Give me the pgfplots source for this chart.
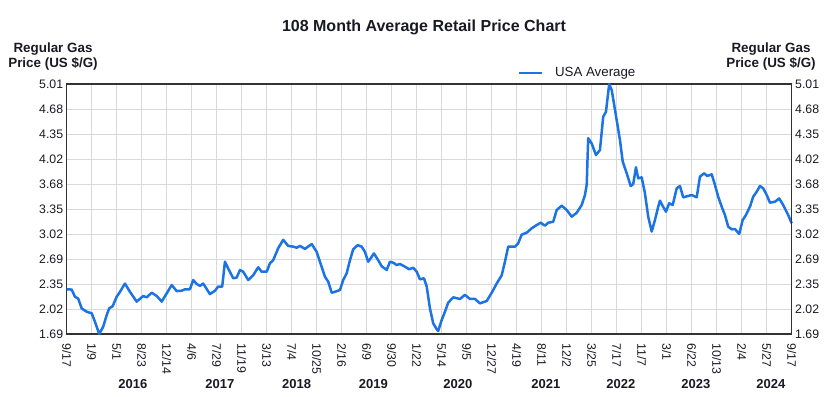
\documentclass[border=0pt]{standalone}
\usepackage{pgfplots}
\pgfplotsset{compat=1.18}
\usepackage{fontspec}
\setmainfont{Liberation Sans}
\definecolor{lineblue}{RGB}{28,115,228}
\definecolor{gridgray}{RGB}{217,217,217}
\definecolor{txt}{RGB}{25,25,35}
\tikzset{yearlab/.style={font=\bfseries\fontsize{13bp}{15bp}\selectfont, text=txt, yshift=-50bp}}
\begin{document}
\begin{tikzpicture}
\path[use as bounding box] (-66.7bp,-63bp) rectangle (771.3bp,334bp);
\begin{axis}[
  at={(0,0)}, anchor=south west,
  scale only axis, width=725bp, height=250bp,
  xmin=0, xmax=29, ymin=1.69, ymax=5.01,
  xtick={0,...,29},
  xticklabels={9/17,1/9,5/1,8/23,12/14,4/6,7/29,11/19,3/13,7/4,10/25,2/16,6/9,9/30,1/22,5/14,9/5,12/27,4/19,8/11,12/2,3/25,7/17,11/7,3/1,6/22,10/13,2/4,5/27,9/17},
  ytick={1.69,2.022,2.354,2.686,3.018,3.35,3.682,4.014,4.346,4.678,5.01},
  yticklabels={1.69,2.02,2.35,2.69,3.02,3.35,3.68,4.02,4.35,4.68,5.01},
  /pgf/number format/assume math mode=true,
  major tick length=0pt,
  grid=major,
  major grid style={gridgray, line width=1bp},
  axis line style={draw=black!80, line width=1.5bp},
  tick label style={font=\fontsize{12.3bp}{14bp}\selectfont, text=txt},
  x tick label style={rotate=-90, anchor=west},
  xticklabel shift=6bp,
  clip=false,
  legend style={at={(0.7045,1.044)}, anchor=center, draw=none, fill=none,
    font=\fontsize{13.3bp}{15bp}\selectfont, text=txt, inner sep=0pt},
  legend image code/.code={\draw[#1] (0bp,0bp) -- (23bp,0bp); \path (33bp,0bp);},
]
\addplot[lineblue, line width=2.5bp, line join=round] coordinates {
(0.00,2.284)(0.20,2.28)(0.33,2.185)(0.46,2.16)(0.60,2.03)(0.80,1.986)(1.00,1.965)(1.13,1.853)(1.30,1.69)(1.46,1.787)(1.60,1.942)(1.70,2.03)(1.84,2.06)(2.00,2.185)(2.13,2.25)(2.33,2.36)(2.53,2.25)(2.80,2.12)(3.06,2.195)(3.20,2.177)(3.40,2.238)(3.60,2.195)(3.80,2.12)(4.00,2.23)(4.20,2.34)(4.40,2.26)(4.60,2.265)(4.73,2.284)(4.93,2.284)(5.06,2.407)(5.20,2.354)(5.33,2.33)(5.46,2.36)(5.73,2.22)(5.93,2.265)(6.06,2.32)(6.22,2.32)(6.33,2.65)(6.46,2.56)(6.66,2.43)(6.80,2.44)(6.93,2.54)(7.06,2.517)(7.26,2.407)(7.46,2.47)(7.66,2.576)(7.80,2.517)(8.00,2.517)(8.13,2.63)(8.26,2.67)(8.46,2.83)(8.66,2.94)(8.86,2.86)(9.06,2.85)(9.20,2.836)(9.33,2.86)(9.53,2.82)(9.80,2.885)(10.00,2.78)(10.20,2.58)(10.33,2.45)(10.46,2.385)(10.60,2.238)(10.73,2.25)(10.93,2.274)(11.06,2.407)(11.20,2.496)(11.33,2.67)(11.46,2.815)(11.64,2.87)(11.80,2.85)(11.93,2.78)(12.06,2.65)(12.16,2.695)(12.29,2.76)(12.46,2.67)(12.60,2.59)(12.80,2.54)(12.93,2.65)(13.06,2.637)(13.20,2.606)(13.33,2.62)(13.53,2.584)(13.70,2.55)(13.86,2.57)(14.00,2.517)(14.13,2.416)(14.29,2.43)(14.40,2.32)(14.53,2.03)(14.66,1.832)(14.80,1.752)(14.86,1.73)(15.00,1.876)(15.13,1.986)(15.26,2.106)(15.46,2.177)(15.73,2.155)(15.93,2.21)(16.13,2.155)(16.33,2.155)(16.53,2.097)(16.80,2.128)(17.00,2.238)(17.20,2.36)(17.40,2.47)(17.53,2.65)(17.66,2.85)(17.93,2.85)(18.06,2.894)(18.20,3.01)(18.40,3.035)(18.60,3.094)(18.80,3.137)(18.96,3.168)(19.13,3.128)(19.26,3.168)(19.46,3.18)(19.60,3.337)(19.80,3.394)(20.00,3.337)(20.20,3.248)(20.40,3.30)(20.60,3.403)(20.73,3.536)(20.80,3.67)(20.86,4.29)(21.00,4.22)(21.17,4.067)(21.33,4.133)(21.46,4.576)(21.57,4.64)(21.70,5.01)(21.80,4.93)(22.00,4.53)(22.13,4.266)(22.24,3.98)(22.40,3.824)(22.56,3.655)(22.66,3.68)(22.77,3.904)(22.86,3.757)(23.00,3.77)(23.13,3.558)(23.26,3.248)(23.40,3.05)(23.53,3.204)(23.66,3.38)(23.73,3.46)(23.84,3.39)(23.97,3.314)(24.10,3.425)(24.24,3.403)(24.40,3.625)(24.53,3.655)(24.66,3.505)(24.86,3.523)(25.00,3.536)(25.20,3.505)(25.33,3.78)(25.50,3.824)(25.62,3.788)(25.80,3.81)(25.93,3.67)(26.06,3.513)(26.20,3.38)(26.33,3.27)(26.46,3.115)(26.60,3.08)(26.73,3.084)(26.90,3.018)(27.04,3.204)(27.17,3.27)(27.33,3.38)(27.46,3.513)(27.60,3.58)(27.73,3.655)(27.86,3.625)(28.00,3.536)(28.13,3.434)(28.33,3.447)(28.50,3.49)(28.66,3.403)(28.86,3.27)(29.00,3.16)
};
\addlegendentry{USA Average}
\node[yearlab] at (axis cs:2.65,1.69) {2016};
\node[yearlab] at (axis cs:6.13,1.69) {2017};
\node[yearlab] at (axis cs:9.2,1.69) {2018};
\node[yearlab] at (axis cs:12.27,1.69) {2019};
\node[yearlab] at (axis cs:15.65,1.69) {2020};
\node[yearlab] at (axis cs:19.17,1.69) {2021};
\node[yearlab] at (axis cs:22.17,1.69) {2022};
\node[yearlab] at (axis cs:25.17,1.69) {2023};
\node[yearlab] at (axis cs:28.17,1.69) {2024};
\end{axis}
\begin{axis}[
  at={(0,0)}, anchor=south west,
  scale only axis, width=725bp, height=250bp,
  xmin=0, xmax=29, ymin=1.69, ymax=5.01,
  axis x line=none, axis y line*=right,
  axis line style={draw=black!80, line width=1.5bp},
  ytick={1.69,2.022,2.354,2.686,3.018,3.35,3.682,4.014,4.346,4.678,5.01},
  yticklabels={1.69,2.02,2.35,2.69,3.02,3.35,3.68,4.02,4.35,4.68,5.01},
  major tick length=0pt,
  tick label style={font=\fontsize{12.3bp}{14bp}\selectfont, text=txt},
]
\end{axis}
\node[font=\bfseries\fontsize{16bp}{18bp}\selectfont, text=txt] at (357.3bp,307bp) {108 Month Average Retail Price Chart};
\node[font=\bfseries\fontsize{13.4bp}{15bp}\selectfont, text=txt, align=center] at (-13.7bp,277.5bp) {Regular Gas\\Price (US \$/G)};
\node[font=\bfseries\fontsize{13.4bp}{15bp}\selectfont, text=txt, align=center] at (704.3bp,277.5bp) {Regular Gas\\Price (US \$/G)};
\end{tikzpicture}
\end{document}
